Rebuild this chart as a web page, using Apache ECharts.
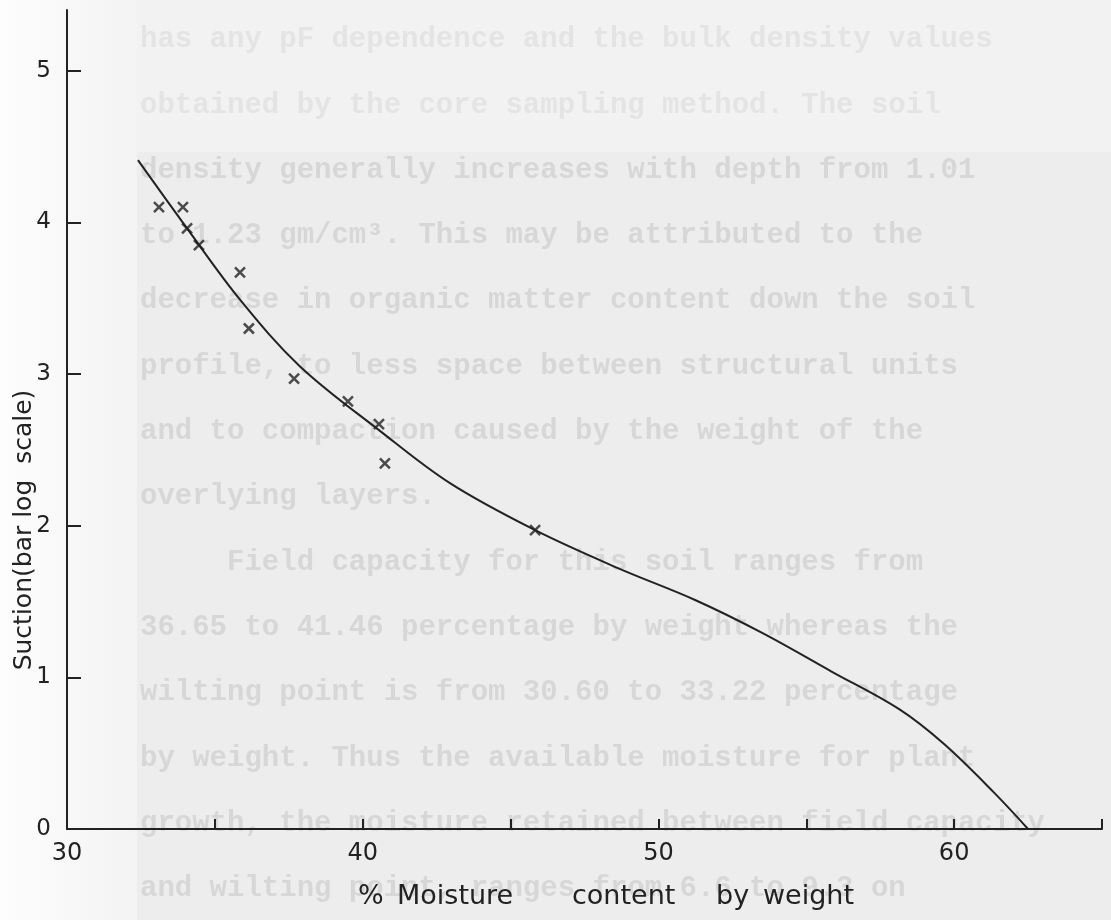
<!DOCTYPE html>
<html><head><meta charset="utf-8">
<script src="https://cdn.jsdelivr.net/npm/echarts@6/dist/echarts.min.js"></script>
<style>html,body{margin:0;padding:0;background:#fff}#c{width:1111px;height:920px}</style>
</head><body><div id="c"></div>
<script>
// ---- data ----
const xTickValues = [35, 40, 45, 50, 55, 60, 65];
const xLabelValues = [30, 40, 50, 60];
const yTickValues = [1, 2, 3, 4, 5];
const yLabelValues = [0, 1, 2, 3, 4, 5];

// measured points (crosses)
const pointMoisture = [33.11, 33.92, 34.06, 34.46, 35.85, 36.15, 37.68, 39.50, 40.55, 40.75, 45.83];
const pointSuction  = [4.10, 4.10, 3.96, 3.85, 3.67, 3.30, 2.97, 2.82, 2.67, 2.41, 1.97];

// fitted curve
const curveMoisture = [32.40, 34.06, 35.85, 37.88, 40.55, 42.95, 45.83, 48.63, 51.24, 53.54, 55.84, 58.14, 59.66, 61.35, 62.50];
const curveSuction  = [4.41, 3.96, 3.49, 3.05, 2.63, 2.28, 1.97, 1.72, 1.51, 1.29, 1.04, 0.79, 0.56, 0.24, 0.00];

const xTitleWords = ['%', 'Moisture', 'content', 'by', 'weight'];
const yTitle = 'Suction(bar log  scale)';

// faint typed text of the scanned page showing through
const pageLines = [
  'has any pF dependence and the bulk density values',
  'obtained by the core sampling method. The soil',
  'density generally increases with depth from 1.01',
  'to 1.23 gm/cm\u00B3. This may be attributed to the',
  'decrease in organic matter content down the soil',
  'profile, to less space between structural units',
  'and to compaction caused by the weight of the',
  'overlying layers.',
  '     Field capacity for this soil ranges from',
  '36.65 to 41.46 percentage by weight whereas the',
  'wilting point is from 30.60 to 33.22 percentage',
  'by weight. Thus the available moisture for plant',
  'growth, the moisture retained between field capacity',
  'and wilting point, ranges from 6.6 to 9.3 on'
];

// ---- chart ----
const chart = echarts.init(document.getElementById('c'), null, {renderer: 'canvas'});
const ink = '#222222';
const FONT = 'DejaVu Sans';

const graphics = [
  {type: 'rect', shape: {x: 0, y: 0, width: 1111, height: 920}, style: {fill: '#ededed'}, z: -20, silent: true},
  {type: 'rect', shape: {x: 137, y: 0, width: 974, height: 152}, style: {fill: '#f2f2f2'}, z: -19, silent: true},
  {type: 'rect', shape: {x: 0, y: 0, width: 137, height: 920},
   style: {fill: new echarts.graphic.LinearGradient(0, 0, 1, 0, [{offset: 0, color: '#fdfdfd'}, {offset: 1, color: '#f3f3f3'}])},
   z: -19, silent: true}
];
pageLines.forEach((t, k) => {
  graphics.push({
    type: 'text', x: 140, y: 40 + 65.3 * k, z: -10, silent: true,
    style: {text: t, fill: k < 2 ? '#e4e4e4' : '#d7d7d7', font: 'bold 29px "Liberation Mono"', textVerticalAlign: 'middle'}
  });
});
const wordX = [358, 397, 572, 716, 763];
xTitleWords.forEach((w, i) => {
  graphics.push({type: 'text', x: wordX[i], y: 897, z: 10, silent: true,
    style: {text: w, fill: ink, font: '27px "' + FONT + '"', textVerticalAlign: 'middle'}});
});
graphics.push({type: 'text', x: 24, y: 530, rotation: Math.PI / 2, z: 10, silent: true,
  style: {text: yTitle, fill: ink, font: '25px "' + FONT + '"', textAlign: 'center', textVerticalAlign: 'middle'}});

chart.setOption({
  animation: false,
  backgroundColor: '#ffffff',
  graphic: graphics,
  grid: {left: 67, right: 9, top: 10, bottom: 91, containLabel: false, outerBoundsMode: 'none'},
  xAxis: {
    type: 'value', min: 30, max: 65, interval: 5,
    axisLine: {show: true, onZero: false, lineStyle: {color: ink, width: 2}},
    axisTick: {show: true, inside: true, length: 10, customValues: xTickValues, lineStyle: {color: ink, width: 2}},
    axisLabel: {customValues: xLabelValues, fontSize: 24, color: ink, fontFamily: FONT, margin: 13},
    splitLine: {show: false}
  },
  yAxis: {
    type: 'value', min: 0, max: 5.4, interval: 1,
    axisLine: {show: true, onZero: false, lineStyle: {color: ink, width: 2}},
    axisTick: {show: true, inside: true, length: 14, customValues: yTickValues, lineStyle: {color: ink, width: 2}},
    axisLabel: {customValues: yLabelValues, fontSize: 23, color: ink, fontFamily: FONT, margin: 16},
    splitLine: {show: false}
  },
  series: [
    {
      type: 'line', name: 'curve', smooth: 0.35, symbol: 'none',
      lineStyle: {color: ink, width: 2},
      data: curveMoisture.map((x, i) => [x, curveSuction[i]]),
      z: 3
    },
    {
      type: 'scatter', name: 'points',
      symbol: 'path://M0 0L10 10M10 0L0 10', symbolSize: 10,
      itemStyle: {color: 'none', borderColor: ink, borderWidth: 2.5},
      data: pointMoisture.map((x, i) => [x, pointSuction[i]]),
      z: 4
    }
  ]
});
</script>
</body></html>
